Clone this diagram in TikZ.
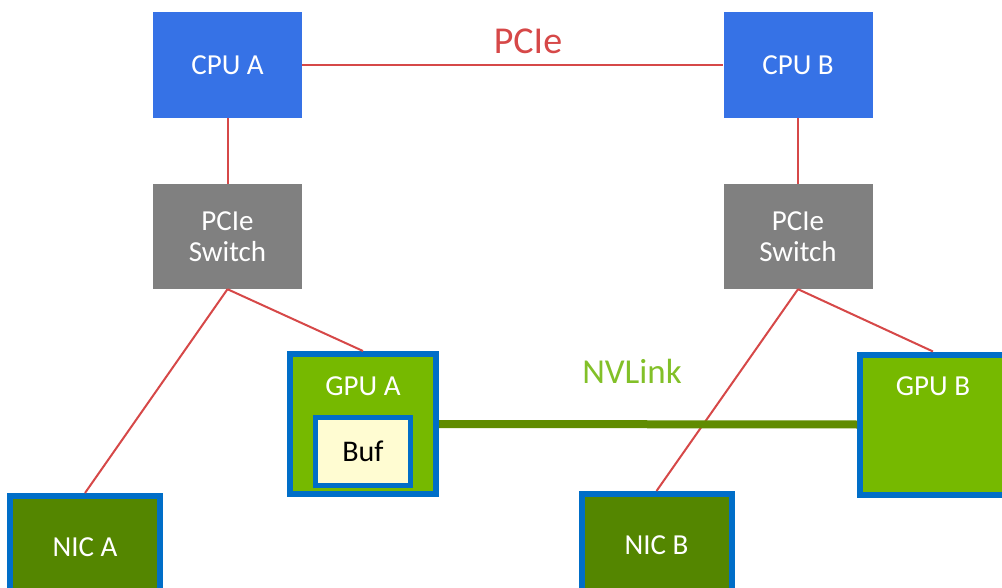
\documentclass[tikz,border=0pt]{standalone}
\usepackage{fontspec}
\setmainfont{Carlito}
\definecolor{cpublue}{RGB}{54,114,230}
\definecolor{swgray}{RGB}{128,128,128}
\definecolor{gpugreen}{RGB}{118,185,0}
\definecolor{nicgreen}{RGB}{84,134,0}
\definecolor{edgeblue}{RGB}{0,110,200}
\definecolor{bufyellow}{RGB}{255,252,210}
\definecolor{pcired}{RGB}{214,72,72}
\definecolor{nvgreen}{RGB}{96,140,0}
\definecolor{nvtext}{RGB}{130,192,40}

\begin{document}
\begin{tikzpicture}[x=1pt,y=1pt,
    box/.style={rectangle,text=white,font=\fontsize{29}{31}\selectfont,align=center},
    cpubox/.style={box,fill=cpublue,minimum width=149,minimum height=106},
    swbox/.style={box,fill=swgray,minimum width=149,minimum height=105},
    gpubox/.style={box,fill=gpugreen,draw=edgeblue,line width=6,minimum width=146,minimum height=140},
    nicbox/.style={box,fill=nicgreen,draw=edgeblue,line width=6,minimum width=150,minimum height=102},
    bufbox/.style={rectangle,fill=bufyellow,draw=edgeblue,line width=5,minimum width=95,minimum height=68,font=\fontsize{30}{32}\selectfont},
    pcie/.style={pcired,line width=2},
    nvlink/.style={nvgreen,line width=8}]
      \tikzstyle{every node}+=[inner sep=0pt]
      \useasboundingbox (0,0) rectangle (1002,-588);
      % CPUs and switches
      \node [cpubox] (cpuA) at (227.5,-65) {CPU A};
      \node [cpubox] (cpuB) at (798,-65) {CPU B};
      \node [swbox] (swA) at (227.5,-236.5) {PCIe\\Switch};
      \node [swbox] (swB) at (798,-236.5) {PCIe\\Switch};
      % GPUs and NICs
      \node [gpubox] (gpuA) at (363,-424) {};
      \node [gpubox] (gpuB) at (933,-424.5) {};
      \node [box] (gpuAtxt) at (363,-386) {GPU A};
      \node [box] (gpuBtxt) at (933,-386) {GPU B};
      \node [bufbox] (buf) at (363,-451.5) {Buf};
      \node [nicbox] (nicA) at (85,-547) {NIC A};
      \node [nicbox] (nicB) at (656.5,-545) {NIC B};
      % links
      \draw [pcie] (cpuA.east) -- (cpuB.west);
      \draw (528,-41) node [pcired,font=\fontsize{38}{40}\selectfont] (pcielbl) {PCIe};
      \draw [pcie] (cpuA.south) -- (swA.north);
      \draw [pcie] (cpuB.south) -- (swB.north);
      \draw [pcie] (swA.south) -- (nicA.north);
      \draw [pcie] (swA.south) -- (gpuA.north);
      \draw [pcie] (swB.south) -- (nicB.north);
      \draw [pcie] (swB.south) -- (gpuB.north);
      \draw [nvlink] (gpuA.east) -- (gpuB.west);
      \draw (632,-371) node [nvtext,font=\fontsize{35}{37}\selectfont] (nvlbl) {NVLink};
    \end{tikzpicture}
\end{document}
